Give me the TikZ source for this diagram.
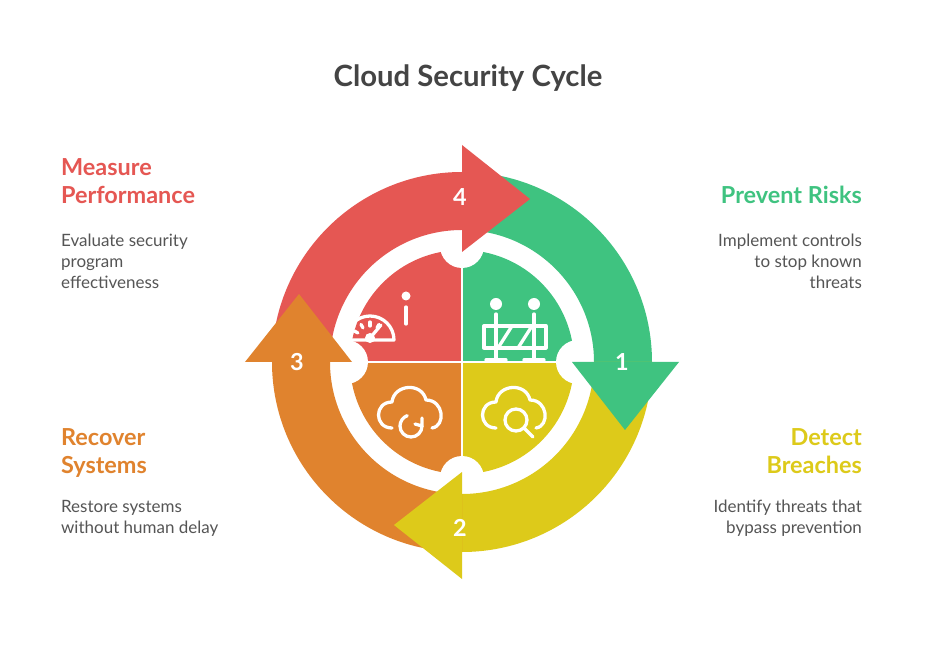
\documentclass[tikz,border=0pt]{standalone}
\usepackage{fontspec}
\usetikzlibrary{calc}
\setmainfont{Lato}
\definecolor{cRed}{HTML}{E55753}
\definecolor{cGreen}{HTML}{3FC380}
\definecolor{cYellow}{HTML}{DDCA1A}
\definecolor{cOrange}{HTML}{E0832E}
\definecolor{cTitle}{HTML}{444444}
\definecolor{cText}{HTML}{555555}
\tikzset{
  head/.style={font=\fontsize{20}{24}\selectfont\bfseries, align=#1},
  body/.style={font=\fontsize{14.5}{18}\selectfont, text=cText, align=#1},
  num/.style={font=\fontsize{20}{20}\selectfont\bfseries, text=white},
  icon/.style={draw=white, line width=2.8pt, line cap=round, line join=round}
}
\newcommand{\cyclearc}[1]{%
  \fill[#1] (180:190) arc[start angle=180, end angle=90, radius=190]
    -- (90:132) arc[start angle=90, end angle=180, radius=132] -- cycle;}
\newcommand{\cyclehead}[1]{%
  \fill[#1] (0,217) -- (68,163) -- (0,110) -- cycle;}
\begin{document}
\begin{tikzpicture}[x=0.03cm, y=0.03cm]
  \useasboundingbox (-462,-290) rectangle (474,362);
  \fill[white] (-462,-290) rectangle (474,362);
  % quadrants
  \fill[cRed] (0,0) -- (180:112) arc[start angle=180, end angle=90, radius=112] -- cycle;
  \fill[cGreen] (0,0) -- (90:112) arc[start angle=90, end angle=0, radius=112] -- cycle;
  \fill[cYellow] (0,0) -- (0:112) arc[start angle=0, end angle=-90, radius=112] -- cycle;
  \fill[cOrange] (0,0) -- (-90:112) arc[start angle=-90, end angle=-180, radius=112] -- cycle;
  \draw[white, line width=2pt] (-115,0) -- (115,0) (0,-115) -- (0,115);
  \foreach \a in {0,90,180,270}
    \fill[white] (\a:116) circle (22);
  % arcs
  \cyclearc{cRed}
  \begin{scope}[rotate=-90]\cyclearc{cGreen}\end{scope}
  \begin{scope}[rotate=-180]\cyclearc{cYellow}\end{scope}
  \begin{scope}[rotate=-270]\cyclearc{cOrange}\end{scope}
  % heads
  \cyclehead{cRed}
  \begin{scope}[rotate=-90]\cyclehead{cGreen}\end{scope}
  \begin{scope}[rotate=-180]\cyclehead{cYellow}\end{scope}
  \begin{scope}[rotate=-270]\cyclehead{cOrange}\end{scope}
  \node[num] (n4) at (-2,165) {4};
  \node[num] (n1) at (160,0) {1};
  \node[num] (n2) at (-2,-166) {2};
  \node[num] (n3) at (-165,0) {3};
  % gauge
  \draw[icon] (-68,22) arc[start angle=0, end angle=180, radius=24] -- cycle;
  \fill[white] (-92,24) circle (5);
  \draw[icon] (-92,24) -- (-81,37);
  \foreach \t in {150,120,90,60} \draw[icon] ($(-92,22)+(\t:18)$) -- ++(\t:-4);
  \fill[white] (-56,66) circle (4.5);
  \draw[icon] (-56,55) -- (-56,38);
  % barrier
  \fill[white] (34,58) circle (6) (72,58) circle (6);
  \draw[icon] (34,48) -- (34,2) (72,48) -- (72,2) (24,2) -- (44,2) (62,2) -- (82,2);
  \draw[icon] (22,36) rectangle (84,14);
  \draw[icon] (36,14) -- (50,36) (56,14) -- (70,36);
  % cloud search
  \draw[icon] (34,-66) .. controls (16,-66) and (16,-40) .. (34,-40)
    .. controls (36,-22) and (64,-20) .. (68,-38)
    .. controls (86,-38) and (88,-64) .. (74,-66);
  \draw[icon] (54,-58) circle (11) (62,-66) -- (71,-75);
  % cloud refresh
  \draw[icon] (-70,-66) .. controls (-88,-66) and (-88,-40) .. (-70,-40)
    .. controls (-68,-22) and (-40,-20) .. (-36,-38)
    .. controls (-18,-38) and (-16,-64) .. (-30,-66);
  \draw[icon] (-40,-64) arc[start angle=0, end angle=-250, radius=11];
  \draw[icon] (-40,-56) -- (-40,-64) -- (-47,-62);
  % texts
  \node[text=cTitle, font=\fontsize{25}{28}\selectfont\bfseries] (title) at (6,284) {Cloud Security Cycle};
  \node[head=left, text=cRed, anchor=north west] (h4) at (-405,208) {Measure\\Performance};
  \node[body=left, anchor=north west] (b4) at (-405,132) {Evaluate security\\program\\effectiveness};
  \node[head=right, text=cGreen, anchor=north east] (h1) at (404,180) {Prevent Risks};
  \node[body=right, anchor=north east] (b1) at (404,132) {Implement controls\\to stop known\\threats};
  \node[head=left, text=cOrange, anchor=north west] (h3) at (-405,-62) {Recover\\Systems};
  \node[body=left, anchor=north west] (b3) at (-405,-134) {Restore systems\\without human delay};
  \node[head=right, text=cYellow, anchor=north east] (h2) at (404,-62) {Detect\\Breaches};
  \node[body=right, anchor=north east] (b2) at (404,-134) {Identify threats that\\bypass prevention};
\end{tikzpicture}
\end{document}
